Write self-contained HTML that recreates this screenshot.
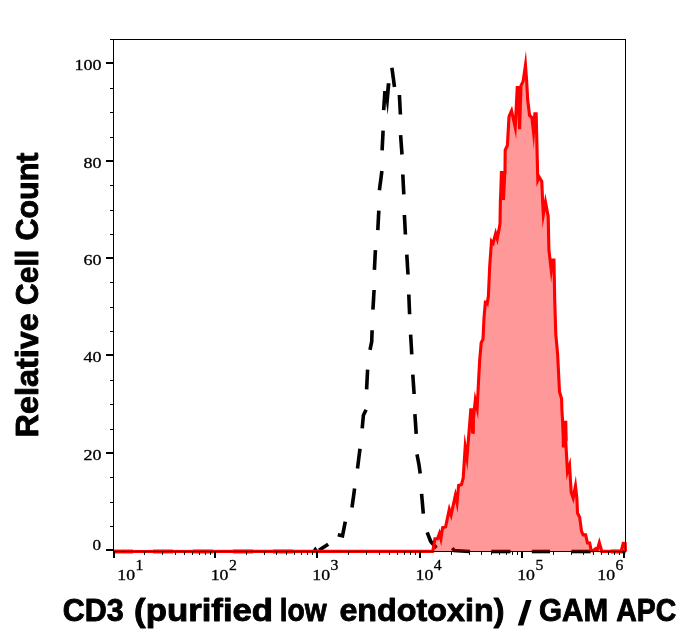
<!DOCTYPE html>
<html><head><meta charset="utf-8"><title>Flow cytometry histogram</title>
<style>
html,body{margin:0;padding:0;background:#fff;}
body{width:699px;height:641px;overflow:hidden;font-family:"Liberation Sans",sans-serif;}
svg{display:block;will-change:transform;transform:translateZ(0);}
.tk{font-family:"Liberation Serif",serif;font-size:15.2px;fill:#000;stroke:#000;stroke-width:0.3px;}
.ax{font-family:"Liberation Sans",sans-serif;font-weight:bold;fill:#000;}
</style></head><body>
<svg width="699" height="641" viewBox="0 0 699 641">
<rect x="0" y="0" width="699" height="641" fill="#ffffff"/>
<!-- dashed control histogram -->
<g fill="none" stroke="#000" stroke-width="3.6" stroke-linecap="butt" stroke-linejoin="miter">
<polyline points="113.5,551.5 133.0,551.5"/>
<polyline points="153.0,551.5 173.0,551.5"/>
<polyline points="193.0,551.5 213.0,551.5"/>
<polyline points="233.0,551.5 253.0,551.5"/>
<polyline points="273.0,551.5 293.0,551.5"/>
<polyline points="319.0,550.3 328.2,544.2"/>
<polyline points="337.8,534.8 342.5,535.8 345.3,521.6"/>
<polyline points="352.0,507.4 354.6,488.5"/>
<polyline points="357.5,468.4 360.0,448.7"/>
<polyline points="362.2,428.4 363.4,415.2 366.1,409.7"/>
<polyline points="366.6,389.4 367.6,369.7"/>
<polyline points="370.0,349.8 371.7,341.7 372.1,330.2"/>
<polyline points="372.9,309.7 374.1,290.0"/>
<polyline points="374.4,269.8 375.4,250.1"/>
<polyline points="377.8,230.2 378.8,210.6"/>
<polyline points="379.4,190.3 381.9,171.0"/>
<polyline points="382.1,150.4 383.1,130.7"/>
<polyline points="383.7,110.2 384.9,91.0"/>
<polyline points="391.9,67.8 394.5,87.1"/>
<polyline points="399.4,95.0 400.4,114.5"/>
<polyline points="400.6,135.2 402.0,154.5"/>
<polyline points="402.8,174.5 403.8,194.3"/>
<polyline points="404.4,215.0 405.4,234.5"/>
<polyline points="406.8,254.6 408.0,274.5"/>
<polyline points="408.8,294.5 409.6,314.3"/>
<polyline points="410.6,334.6 411.8,354.3"/>
<polyline points="412.8,374.6 414.1,394.0"/>
<polyline points="414.9,414.2 416.2,433.9"/>
<polyline points="417.0,454.4 419.0,464.9 420.2,473.4"/>
<polyline points="421.6,493.9 423.3,513.6"/>
<polyline points="427.2,532.4 430.6,541.2 436.4,548.0"/>
<polyline points="452.3,548.2 454.3,550.6 470.0,551.5"/>
<polyline points="491.3,551.5 510.5,551.5"/>
<polyline points="531.8,551.5 550.0,551.5"/>
<polyline points="571.4,551.5 590.7,551.5"/>
<polyline points="611.0,551.5 625.5,551.5"/>
</g>
<polygon points="312.4,550.8 315.3,546.6 318.2,550.8" fill="#000"/>
<polygon points="386.7,83.2 390.5,83.2 387.7,114.8 386.0,102 386.0,91" fill="#000"/>
<!-- stained histogram -->
<polygon points="113.5,551.5 433.1,551.5 434.9,538.8 437.5,538.8 439.6,529.7 441.2,544.9 442.6,527.7 445.6,526.7 449.1,504.8 451.3,519.5 455.4,489.5 457.5,511.5 458.6,485.4 461.5,484.6 463.2,478.0 464.6,434.8 467.4,469.5 470.4,409.5 472.1,409.5 473.3,433.4 474.8,392.4 478.0,418.0 478.6,380.0 479.7,360.2 481.2,342.7 483.0,339.2 484.0,318.0 484.9,301.6 486.2,302.4 487.8,305.6 488.4,296.0 489.7,266.2 490.7,238.8 493.5,245.1 495.6,229.0 497.5,243.7 500.0,224.0 500.4,199.5 505.0,171.5 505.2,150.2 507.4,145.3 509.0,116.5 511.9,107.4 516.1,137.6 516.8,87.0 518.6,87.0 519.6,129.2 521.0,85.6 523.1,81.4 525.9,52.2 526.6,80.0 527.7,100.0 529.6,115.4 531.9,117.6 533.8,147.8 534.5,113.3 536.6,113.3 537.6,173.0 536.8,185.7 539.0,175.1 541.8,181.5 542.6,201.0 542.6,227.0 545.4,194.7 548.2,216.5 548.9,250.0 551.2,281.6 552.1,259.6 554.4,259.6 554.7,299.2 555.8,334.3 557.6,353.9 559.5,391.8 561.6,398.8 561.9,410.0 562.8,445.6 566.0,422.8 566.6,478.8 570.4,458.5 571.2,492.5 573.5,502.5 575.8,477.0 576.9,498.7 577.5,513.0 579.7,517.4 581.5,531.1 583.1,534.9 585.6,534.9 587.5,543.0 589.7,543.0 591.2,550.5 593.0,551.0 595.6,548.4 597.7,551.1 599.3,538.6 601.8,551.3 621.1,551.3 623.0,543.0 625.5,543.0 625.5,551.5" fill="rgba(255,0,0,0.4)" stroke="none"/>
<polyline points="113.50,551.50 432.82,551.17 434.92,538.82 437.50,538.80 439.44,533.38 440.88,538.85 442.60,527.70 445.60,526.70 449.31,509.33 451.10,515.01 455.39,495.30 456.99,502.79 458.60,485.40 461.50,484.60 463.20,478.00 465.19,447.13 466.94,458.05 470.78,409.90 471.75,409.90 473.16,421.20 475.29,400.32 477.15,408.38 478.60,380.00 479.70,360.20 481.20,342.70 483.00,339.20 484.00,318.00 485.37,302.23 486.20,302.40 487.21,303.56 488.40,296.00 489.70,266.20 491.50,241.31 493.10,243.27 495.67,233.28 497.25,238.63 500.00,224.00 500.40,199.50 505.00,171.50 505.20,150.20 507.40,145.30 509.00,116.50 511.56,110.78 515.25,127.50 517.21,87.43 518.18,87.43 519.60,129.20 521.00,85.60 523.10,81.40 525.47,64.92 526.60,80.00 527.70,100.00 529.60,115.40 531.90,117.60 533.52,132.36 534.89,113.72 536.17,113.73 537.60,173.00 537.83,180.08 539.13,176.99 541.80,181.50 542.60,201.00 543.32,214.55 545.46,201.94 548.20,216.50 548.90,250.00 551.23,270.04 552.45,260.00 553.97,260.03 554.70,299.20 555.80,334.30 557.60,353.90 559.50,391.80 561.60,398.80 561.90,410.00 563.60,437.32 565.17,431.24 567.48,471.86 569.55,465.35 571.20,492.50 573.16,498.09 575.47,485.89 576.90,498.70 577.50,513.00 579.70,517.40 581.50,531.10 583.10,534.90 585.60,534.90 587.50,543.00 589.70,543.00 591.20,550.50 593.00,551.00 595.61,548.70 597.31,549.94 599.32,542.73 601.80,551.30 621.10,551.30 623.18,543.25 625.13,543.36 625.50,551.50" fill="none" stroke="#ff0000" stroke-width="3.1" stroke-linejoin="miter" stroke-miterlimit="30"/>
<polygon points="563.8,420.8 567.3,420.8 567.7,440 565.3,447.6 561.8,447.6 561.6,424" fill="#ff0000"/>
<polygon points="470.0,409.2 473.4,409.2 474.9,418 474.9,433.7 471.3,433.7 469.5,424" fill="#ff0000"/>
<polygon points="499.0,200.0 499.9,171.0 506.4,171.0 505.0,200.0" fill="#ff0000"/>
<path d="M113.5,551.5H433.5M600.5,551.5H621" fill="none" stroke="#ff0000" stroke-width="3"/>
<!-- frame -->
<rect x="113.5" y="39.5" width="512.0" height="512.0" fill="none" stroke="#000" stroke-width="1"/>
<g stroke="#000" shape-rendering="auto">
<line x1="106" y1="550.0" x2="113.5" y2="550.0" stroke-width="2"/>
<line x1="110" y1="526.5" x2="113.5" y2="526.5" stroke-width="1"/>
<line x1="110" y1="502.5" x2="113.5" y2="502.5" stroke-width="1"/>
<line x1="110" y1="477.5" x2="113.5" y2="477.5" stroke-width="1"/>
<line x1="106" y1="453.0" x2="113.5" y2="453.0" stroke-width="2"/>
<line x1="110" y1="429.5" x2="113.5" y2="429.5" stroke-width="1"/>
<line x1="110" y1="404.5" x2="113.5" y2="404.5" stroke-width="1"/>
<line x1="110" y1="380.5" x2="113.5" y2="380.5" stroke-width="1"/>
<line x1="106" y1="355.0" x2="113.5" y2="355.0" stroke-width="2"/>
<line x1="110" y1="331.5" x2="113.5" y2="331.5" stroke-width="1"/>
<line x1="110" y1="307.5" x2="113.5" y2="307.5" stroke-width="1"/>
<line x1="110" y1="282.5" x2="113.5" y2="282.5" stroke-width="1"/>
<line x1="106" y1="258.0" x2="113.5" y2="258.0" stroke-width="2"/>
<line x1="110" y1="234.5" x2="113.5" y2="234.5" stroke-width="1"/>
<line x1="110" y1="210.5" x2="113.5" y2="210.5" stroke-width="1"/>
<line x1="110" y1="185.5" x2="113.5" y2="185.5" stroke-width="1"/>
<line x1="106" y1="161.0" x2="113.5" y2="161.0" stroke-width="2"/>
<line x1="110" y1="137.5" x2="113.5" y2="137.5" stroke-width="1"/>
<line x1="110" y1="112.5" x2="113.5" y2="112.5" stroke-width="1"/>
<line x1="110" y1="88.5" x2="113.5" y2="88.5" stroke-width="1"/>
<line x1="106" y1="63.0" x2="113.5" y2="63.0" stroke-width="2"/>
<line x1="110" y1="39.5" x2="113.5" y2="39.5" stroke-width="1"/>
<line x1="114.0" y1="551.5" x2="114.0" y2="557.9" stroke-width="2"/>
<line x1="144.5" y1="551.5" x2="144.5" y2="554.9" stroke-width="1"/>
<line x1="162.5" y1="551.5" x2="162.5" y2="554.9" stroke-width="1"/>
<line x1="175.5" y1="551.5" x2="175.5" y2="554.9" stroke-width="1"/>
<line x1="184.5" y1="551.5" x2="184.5" y2="554.9" stroke-width="1"/>
<line x1="192.5" y1="551.5" x2="192.5" y2="554.9" stroke-width="1"/>
<line x1="199.5" y1="551.5" x2="199.5" y2="554.9" stroke-width="1"/>
<line x1="205.5" y1="551.5" x2="205.5" y2="554.9" stroke-width="1"/>
<line x1="210.5" y1="551.5" x2="210.5" y2="554.9" stroke-width="1"/>
<line x1="215.0" y1="551.5" x2="215.0" y2="557.9" stroke-width="2"/>
<line x1="246.5" y1="551.5" x2="246.5" y2="554.9" stroke-width="1"/>
<line x1="264.5" y1="551.5" x2="264.5" y2="554.9" stroke-width="1"/>
<line x1="276.5" y1="551.5" x2="276.5" y2="554.9" stroke-width="1"/>
<line x1="286.5" y1="551.5" x2="286.5" y2="554.9" stroke-width="1"/>
<line x1="294.5" y1="551.5" x2="294.5" y2="554.9" stroke-width="1"/>
<line x1="301.5" y1="551.5" x2="301.5" y2="554.9" stroke-width="1"/>
<line x1="307.5" y1="551.5" x2="307.5" y2="554.9" stroke-width="1"/>
<line x1="312.5" y1="551.5" x2="312.5" y2="554.9" stroke-width="1"/>
<line x1="317.0" y1="551.5" x2="317.0" y2="557.9" stroke-width="2"/>
<line x1="348.5" y1="551.5" x2="348.5" y2="554.9" stroke-width="1"/>
<line x1="366.5" y1="551.5" x2="366.5" y2="554.9" stroke-width="1"/>
<line x1="379.5" y1="551.5" x2="379.5" y2="554.9" stroke-width="1"/>
<line x1="389.5" y1="551.5" x2="389.5" y2="554.9" stroke-width="1"/>
<line x1="397.5" y1="551.5" x2="397.5" y2="554.9" stroke-width="1"/>
<line x1="404.5" y1="551.5" x2="404.5" y2="554.9" stroke-width="1"/>
<line x1="410.5" y1="551.5" x2="410.5" y2="554.9" stroke-width="1"/>
<line x1="415.5" y1="551.5" x2="415.5" y2="554.9" stroke-width="1"/>
<line x1="420.0" y1="551.5" x2="420.0" y2="557.9" stroke-width="2"/>
<line x1="451.5" y1="551.5" x2="451.5" y2="554.9" stroke-width="1"/>
<line x1="469.5" y1="551.5" x2="469.5" y2="554.9" stroke-width="1"/>
<line x1="481.5" y1="551.5" x2="481.5" y2="554.9" stroke-width="1"/>
<line x1="491.5" y1="551.5" x2="491.5" y2="554.9" stroke-width="1"/>
<line x1="499.5" y1="551.5" x2="499.5" y2="554.9" stroke-width="1"/>
<line x1="506.5" y1="551.5" x2="506.5" y2="554.9" stroke-width="1"/>
<line x1="512.5" y1="551.5" x2="512.5" y2="554.9" stroke-width="1"/>
<line x1="517.5" y1="551.5" x2="517.5" y2="554.9" stroke-width="1"/>
<line x1="522.0" y1="551.5" x2="522.0" y2="557.9" stroke-width="2"/>
<line x1="553.5" y1="551.5" x2="553.5" y2="554.9" stroke-width="1"/>
<line x1="571.5" y1="551.5" x2="571.5" y2="554.9" stroke-width="1"/>
<line x1="583.5" y1="551.5" x2="583.5" y2="554.9" stroke-width="1"/>
<line x1="593.5" y1="551.5" x2="593.5" y2="554.9" stroke-width="1"/>
<line x1="601.5" y1="551.5" x2="601.5" y2="554.9" stroke-width="1"/>
<line x1="608.5" y1="551.5" x2="608.5" y2="554.9" stroke-width="1"/>
<line x1="614.5" y1="551.5" x2="614.5" y2="554.9" stroke-width="1"/>
<line x1="619.5" y1="551.5" x2="619.5" y2="554.9" stroke-width="1"/>
<line x1="624.0" y1="551.5" x2="624.0" y2="557.9" stroke-width="2"/>
</g>
<g class="tk">
<text x="74.6" y="70.1" textLength="27.0" lengthAdjust="spacingAndGlyphs">100</text>
<text x="83.6" y="168.1" textLength="18.0" lengthAdjust="spacingAndGlyphs">80</text>
<text x="83.6" y="265.1" textLength="18.0" lengthAdjust="spacingAndGlyphs">60</text>
<text x="83.6" y="362.1" textLength="18.0" lengthAdjust="spacingAndGlyphs">40</text>
<text x="83.6" y="460.1" textLength="18.0" lengthAdjust="spacingAndGlyphs">20</text>
<text x="92.6" y="549.9" textLength="8.6" lengthAdjust="spacingAndGlyphs">0</text>
<text x="117.3" y="580.1" textLength="17.8" lengthAdjust="spacingAndGlyphs">10</text>
<text x="135.6" y="570.0" textLength="7.9" lengthAdjust="spacingAndGlyphs">1</text>
<text x="210.7" y="580.1" textLength="17.8" lengthAdjust="spacingAndGlyphs">10</text>
<text x="229.0" y="570.0" textLength="7.9" lengthAdjust="spacingAndGlyphs">2</text>
<text x="312.3" y="580.1" textLength="17.8" lengthAdjust="spacingAndGlyphs">10</text>
<text x="330.6" y="570.0" textLength="7.9" lengthAdjust="spacingAndGlyphs">3</text>
<text x="415.5" y="580.1" textLength="17.8" lengthAdjust="spacingAndGlyphs">10</text>
<text x="433.8" y="570.0" textLength="7.9" lengthAdjust="spacingAndGlyphs">4</text>
<text x="517.2" y="580.1" textLength="17.8" lengthAdjust="spacingAndGlyphs">10</text>
<text x="535.5" y="570.0" textLength="7.9" lengthAdjust="spacingAndGlyphs">5</text>
<text x="597.3" y="580.1" textLength="17.8" lengthAdjust="spacingAndGlyphs">10</text>
<text x="615.6" y="570.0" textLength="7.9" lengthAdjust="spacingAndGlyphs">6</text>
</g>
<text class="ax" x="62.70" y="620.7" font-size="31.2" stroke="#000" stroke-width="0.9" stroke-linejoin="round" textLength="61.01" lengthAdjust="spacingAndGlyphs">CD3</text>
<text class="ax" x="134.10" y="620.7" font-size="31.2" stroke="#000" stroke-width="0.9" stroke-linejoin="round" textLength="139.02" lengthAdjust="spacingAndGlyphs">(purified</text>
<text class="ax" x="279.70" y="620.7" font-size="31.2" stroke="#000" stroke-width="0.9" stroke-linejoin="round" textLength="47.02" lengthAdjust="spacingAndGlyphs">low</text>
<text class="ax" x="339.40" y="620.7" font-size="31.2" stroke="#000" stroke-width="0.9" stroke-linejoin="round" textLength="165.02" lengthAdjust="spacingAndGlyphs">endotoxin)</text>
<text class="ax" x="539.10" y="620.7" font-size="31.2" stroke="#000" stroke-width="0.9" stroke-linejoin="round" textLength="69.07" lengthAdjust="spacingAndGlyphs">GAM</text>
<text class="ax" x="616.30" y="620.7" font-size="31.2" stroke="#000" stroke-width="0.9" stroke-linejoin="round" textLength="60.03" lengthAdjust="spacingAndGlyphs">APC</text>
<text class="ax" transform="translate(38.0,437.40) rotate(-90)" x="0" y="0" font-size="31.2" stroke="#000" stroke-width="0.9" stroke-linejoin="round" textLength="124.02" lengthAdjust="spacingAndGlyphs">Relative</text>
<text class="ax" transform="translate(38.0,304.90) rotate(-90)" x="0" y="0" font-size="31.2" stroke="#000" stroke-width="0.9" stroke-linejoin="round" textLength="55.01" lengthAdjust="spacingAndGlyphs">Cell</text>
<text class="ax" transform="translate(38.0,240.60) rotate(-90)" x="0" y="0" font-size="31.2" stroke="#000" stroke-width="0.9" stroke-linejoin="round" textLength="88.02" lengthAdjust="spacingAndGlyphs">Count</text>
<polygon points="517.7,625.4 523.4,625.4 531.6,600.0 525.9,600.0" fill="#000"/>
</svg>
</body></html>
